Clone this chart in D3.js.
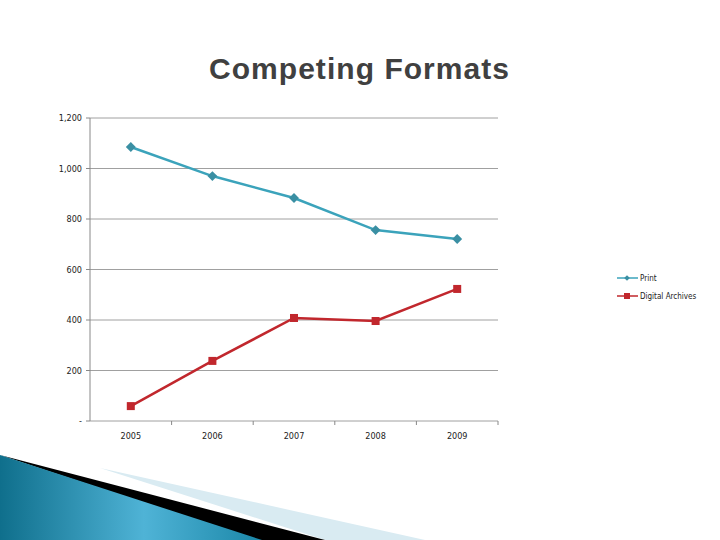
<!DOCTYPE html><html><head><meta charset="utf-8"><script src="https://cdn.jsdelivr.net/npm/d3@7"></script>
<style>body{margin:0;background:#fff}</style></head><body><script>
const years=["2005","2006","2007","2008","2009"];
const printVals=[1085,970,883,756,721];
const digitalVals=[59,238,408,396,523];
const yTicks=[0,200,400,600,800,1000,1200];
const svg=d3.select("body").append("svg").attr("width",720).attr("height",540);
const defs=svg.append("defs");
const g1=defs.append("linearGradient").attr("id","bg").attr("x1","0").attr("x2","1").attr("y1","0").attr("y2","0");
g1.append("stop").attr("offset","0").attr("stop-color","#0f6f8c");
g1.append("stop").attr("offset","0.55").attr("stop-color","#4fb3d6");
g1.append("stop").attr("offset","1").attr("stop-color","#1b87a8");
svg.append("polygon").attr("points","100,468 425,540 325,540").attr("fill","#d9ebf2");
svg.append("polygon").attr("points","0,455 325,540 255,540").attr("fill","#000");
svg.append("polygon").attr("points","0,455 262,540 0,540").attr("fill","url(#bg)");
svg.append("text").attr("x",359).attr("y",79).attr("text-anchor","middle").attr("font-family","Liberation Sans, Arial").attr("font-weight","bold").attr("font-size",30).attr("textLength",300).attr("fill","#404040").text("Competing Formats");
const x=d3.scaleBand().domain(years).range([90,498]);
const y=d3.scaleLinear().domain([0,1200]).range([421,118]);
const f="DejaVu Sans Condensed, Liberation Sans";
yTicks.forEach(t=>{
 svg.append("line").attr("x1",90).attr("x2",498).attr("y1",y(t)).attr("y2",y(t)).attr("stroke","#888").attr("stroke-width",0.8);
 svg.append("line").attr("x1",86).attr("x2",90).attr("y1",y(t)).attr("y2",y(t)).attr("stroke","#888");
 svg.append("text").attr("x",82).attr("y",y(t)+3).attr("text-anchor","end").attr("font-family",f).attr("font-size",9).attr("fill","#222").text(t===0?"-":d3.format(",")(t));
});
svg.append("line").attr("x1",90).attr("x2",90).attr("y1",118).attr("y2",421).attr("stroke","#888");
years.forEach((yr,i)=>{
 svg.append("line").attr("x1",90+81.6*(i+1)).attr("x2",90+81.6*(i+1)).attr("y1",421).attr("y2",425).attr("stroke","#888");
 svg.append("text").attr("x",x(yr)+x.bandwidth()/2).attr("y",439).attr("text-anchor","middle").attr("font-family",f).attr("font-size",9).attr("fill","#222").text(yr);
});
const cx=d=>x(d)+x.bandwidth()/2;
const line=d3.line().x((d,i)=>cx(years[i])).y(d=>y(d));
svg.append("path").attr("d",line(printVals)).attr("fill","none").attr("stroke","#3ba3bb").attr("stroke-width",2.5);
svg.append("path").attr("d",line(digitalVals)).attr("fill","none").attr("stroke","#c1272d").attr("stroke-width",2.5);
printVals.forEach((v,i)=>svg.append("rect").attr("x",-3.5).attr("y",-3.5).attr("width",7).attr("height",7).attr("fill","#3a8fa3").attr("transform",`translate(${cx(years[i])},${y(v)}) rotate(45)`));
digitalVals.forEach((v,i)=>svg.append("rect").attr("x",cx(years[i])-4).attr("y",y(v)-4).attr("width",8).attr("height",8).attr("fill","#c1272d"));
[["Print","#3ba3bb","#3a8fa3",278,true],["Digital Archives","#c1272d","#c1272d",296,false]].forEach(([n,c,m,yy,d])=>{
 svg.append("line").attr("x1",617).attr("x2",638).attr("y1",yy).attr("y2",yy).attr("stroke",c).attr("stroke-width",1.5);
 if(d) svg.append("rect").attr("x",-2).attr("y",-2).attr("width",4).attr("height",4).attr("fill",m).attr("transform",`translate(627,${yy}) rotate(45)`);
 else svg.append("rect").attr("x",624).attr("y",yy-3).attr("width",6).attr("height",6).attr("fill",m);
 svg.append("text").attr("x",640).attr("y",yy+3).attr("font-family",f).attr("font-size",8).attr("fill","#222").text(n);
});
</script></body></html>
